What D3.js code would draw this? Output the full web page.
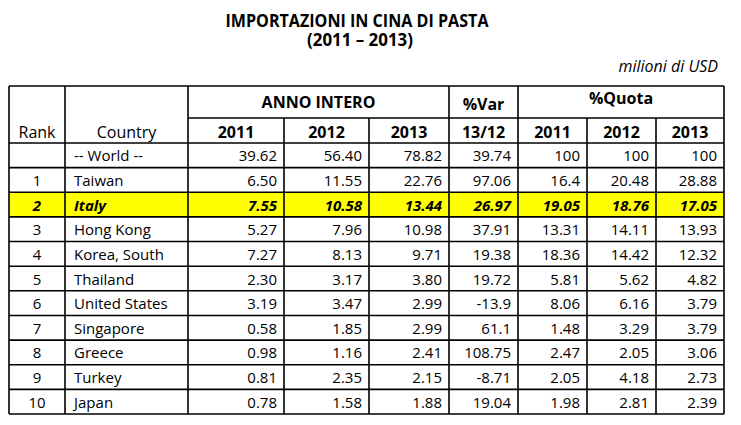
<!DOCTYPE html>
<html>
<head>
<meta charset="utf-8">
<script src="https://cdn.jsdelivr.net/npm/d3@7"></script>
<style>
  body { margin: 0; background: #fff; }
  svg { display: block; font-family: "Open Sans", "Noto Sans", sans-serif; }
</style>
</head>
<body>
<svg id="table"></svg>
<script>
// data
var ranks = ["", "1", "2", "3", "4", "5", "6", "7", "8", "9", "10"];
var countries = ["-- World --", "Taiwan", "Italy", "Hong Kong", "Korea, South", "Thailand",
                 "United States", "Singapore", "Greece", "Turkey", "Japan"];
var val2011 = ["39.62", "6.50", "7.55", "5.27", "7.27", "2.30", "3.19", "0.58", "0.98", "0.81", "0.78"];
var val2012 = ["56.40", "11.55", "10.58", "7.96", "8.13", "3.17", "3.47", "1.85", "1.16", "2.35", "1.58"];
var val2013 = ["78.82", "22.76", "13.44", "10.98", "9.71", "3.80", "2.99", "2.99", "2.41", "2.15", "1.88"];
var varPct  = ["39.74", "97.06", "26.97", "37.91", "19.38", "19.72", "-13.9", "61.1", "108.75", "-8.71", "19.04"];
var quota2011 = ["100", "16.4", "19.05", "13.31", "18.36", "5.81", "8.06", "1.48", "2.47", "2.05", "1.98"];
var quota2012 = ["100", "20.48", "18.76", "14.11", "14.42", "5.62", "6.16", "3.29", "2.05", "4.18", "2.81"];
var quota2013 = ["100", "28.88", "17.05", "13.93", "12.32", "4.82", "3.79", "3.79", "3.06", "2.73", "2.39"];
var highlight = "Italy";

var groupHeaders = [
  {label: "ANNO INTERO", from: 2, to: 5, dy: 108},
  {label: "%Var", from: 5, to: 6, dy: 110},
  {label: "%Quota", from: 6, to: 9, dy: 104}
];
var subHeaders = ["Rank", "Country", "2011", "2012", "2013", "13/12", "2011", "2012", "2013"];

// layout
var W = 741, H = 425;
var edges = [9, 65, 188, 284, 369, 449, 518, 587, 656, 724];
var top0 = 86, mid0 = 118, head1 = 143, bottom = 414;

var svg = d3.select("#table").attr("width", W).attr("height", H);

var y = d3.scaleBand()
  .domain(d3.range(countries.length))
  .range([head1, bottom]);

var columns = [ranks, countries, val2011, val2012, val2013, varPct, quota2011, quota2012, quota2013];

// titles
svg.append("text")
  .attr("x", 357).attr("y", 27)
  .attr("text-anchor", "middle")
  .attr("font-weight", "bold").attr("font-size", 17)
  .attr("textLength", 263).attr("lengthAdjust", "spacingAndGlyphs")
  .text("IMPORTAZIONI IN CINA DI PASTA");
svg.append("text")
  .attr("x", 360).attr("y", 46)
  .attr("text-anchor", "middle")
  .attr("font-weight", "bold").attr("font-size", 17)
  .attr("textLength", 106).attr("lengthAdjust", "spacingAndGlyphs")
  .text("(2011 \u2013 2013)");
svg.append("text")
  .attr("x", 718).attr("y", 72)
  .attr("text-anchor", "end")
  .attr("font-style", "italic").attr("font-size", 16)
  .text("milioni di USD");

// highlighted row
var hi = countries.indexOf(highlight);
svg.append("rect")
  .attr("x", edges[0]).attr("y", y(hi))
  .attr("width", edges[9] - edges[0]).attr("height", y.bandwidth())
  .attr("fill", "#ffff00");

// header text
svg.selectAll(".gh").data(groupHeaders).enter().append("text")
  .attr("x", function(d) { return (edges[d.from] + edges[d.to]) / 2; })
  .attr("y", function(d) { return d.dy; })
  .attr("text-anchor", "middle")
  .attr("font-weight", "bold").attr("font-size", 16)
  .text(function(d) { return d.label; });

svg.selectAll(".sh").data(subHeaders).enter().append("text")
  .attr("x", function(d, i) { return (edges[i] + edges[i + 1]) / 2; })
  .attr("y", 138)
  .attr("text-anchor", "middle")
  .attr("font-weight", function(d, i) { return i < 2 ? "normal" : "bold"; })
  .attr("font-size", 16)
  .text(function(d) { return d; });

// body text
columns.forEach(function(col, c) {
  svg.selectAll(".c" + c).data(col).enter().append("text")
    .attr("x", function() {
      if (c === 0) return (edges[0] + edges[1]) / 2;
      if (c === 1) return edges[1] + 9;
      return edges[c + 1] - 7;
    })
    .attr("y", function(d, i) { return y(i) + y.bandwidth() / 2 + 6; })
    .attr("text-anchor", c === 0 ? "middle" : (c === 1 ? "start" : "end"))
    .attr("font-size", 15)
    .attr("font-weight", function(d, i) { return i === hi ? "bold" : "normal"; })
    .attr("font-style", function(d, i) { return i === hi ? "italic" : "normal"; })
    .text(function(d) { return d; });
});

// grid lines
var lines = svg.append("g").attr("stroke", "#000").attr("stroke-width", 1.6);
function hline(x1, x2, yy) {
  lines.append("line").attr("x1", x1).attr("x2", x2).attr("y1", yy).attr("y2", yy);
}
function vline(xx, y1, y2) {
  lines.append("line").attr("x1", xx).attr("x2", xx).attr("y1", y1).attr("y2", y2);
}
hline(edges[0], edges[9], top0);
hline(edges[2], edges[9], mid0);
d3.range(countries.length + 1).forEach(function(i) {
  var yy = i < countries.length ? y(i) : bottom;
  hline(edges[0], edges[9], yy);
});
// verticals: full height for group borders, body only for inner ones
[0, 1, 2, 5, 6, 9].forEach(function(i) { vline(edges[i], top0, bottom); });
[3, 4, 7, 8].forEach(function(i) { vline(edges[i], mid0, bottom); });
</script>
</body>
</html>
